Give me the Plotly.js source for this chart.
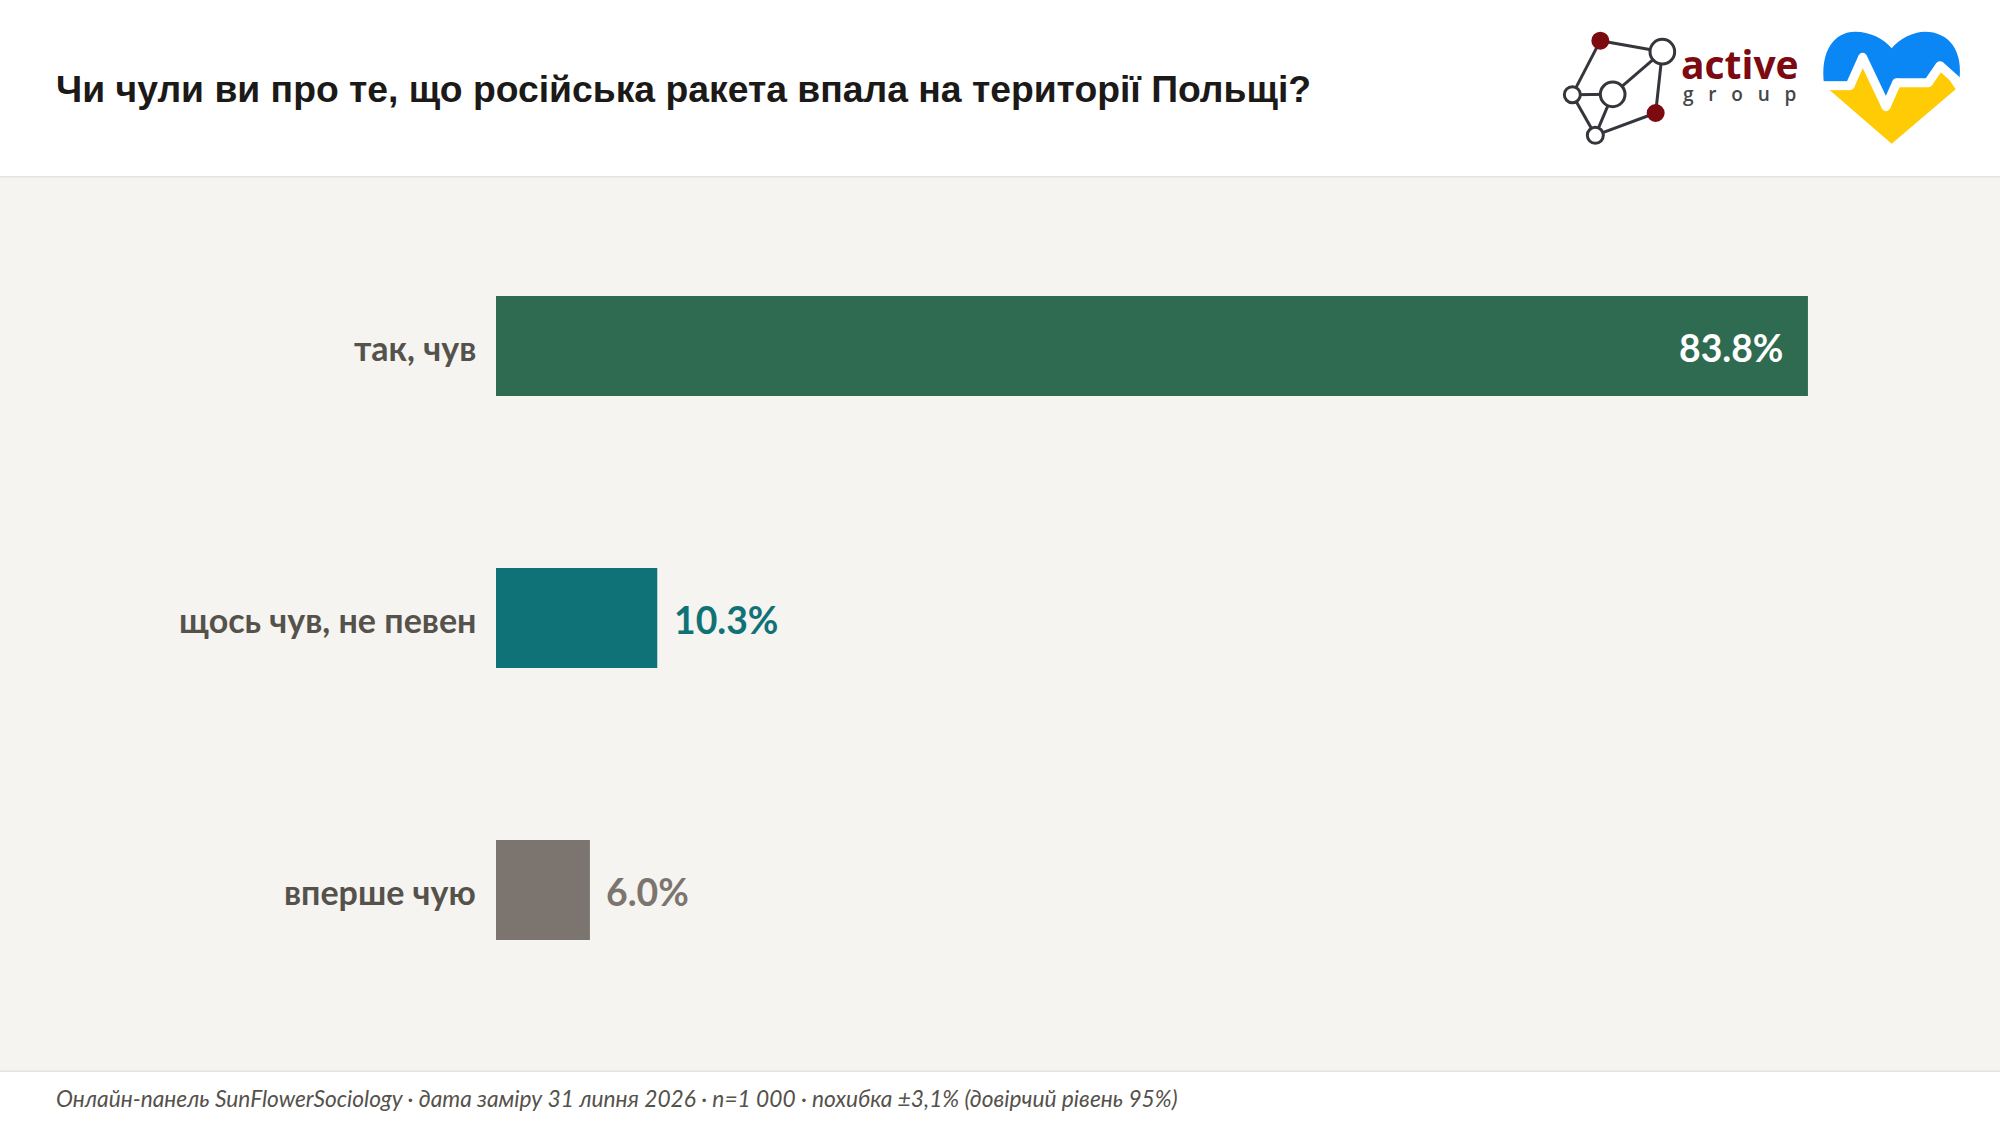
<!DOCTYPE html>
<html><head><meta charset="utf-8">
<script src="https://cdn.plot.ly/plotly-3.0.1.min.js"></script>
<style>html,body{margin:0;padding:0;background:#fff;overflow:hidden}</style></head>
<body><div id="chart" style="width:2000px;height:1126px"></div>
<script>
const categories = ["так, чув", "щось чув, не певен", "вперше чую"];
const values = [83.8, 10.3, 6.0];
const valueLabels = ["83.8%", "10.3%", "6.0%"];
const barColors = ["#2f6b50", "#0f7276", "#7c746e"];
const labelColors = ["#ffffff", "#0f7276", "#7c746e"];
const titleText = "Чи чули ви про те, що російська ракета впала на території Польщі?";
const footerText = "Онлайн-панель SunFlowerSociology · дата заміру 31 липня 2026 · n=1 000 · похибка ±3,1% (довірчий рівень 95%)";

const W = 2000, H = 1126;
const px = x => x / W, py = y => 1 - y / H;
const LX = x => (1540 + x / 3) / W, LY = y => 1 - (y / 3) / H;
function rect(x0, y0, x1, y1, c, layer) {
  return {type:"rect", xref:"paper", yref:"paper", x0:px(x0), x1:px(x1), y0:py(y0), y1:py(y1),
          fillcolor:c, line:{width:0}, layer:layer||"below"};
}
function pathOf(cmds) {
  return cmds.map(c => {
    let s = c[0];
    for (let i = 1; i < c.length; i += 2) s += (i > 1 ? " " : "") + LX(c[i]) + "," + LY(c[i+1]);
    return s;
  }).join(" ");
}
function pathShape(cmds, fill, lineColor, lineW) {
  return {type:"path", xref:"paper", yref:"paper", path:pathOf(cmds), fillcolor:fill||"rgba(0,0,0,0)",
          line:{color:lineColor||"rgba(0,0,0,0)", width:lineW||0}, layer:"above"};
}
function circ(x, y, r, fill, lineColor, lineW) {
  return {type:"circle", xref:"paper", yref:"paper", x0:LX(x-r), x1:LX(x+r), y0:LY(y+r), y1:LY(y-r),
          fillcolor:fill, line:{color:lineColor||fill, width:lineW||0}, layer:"above"};
}
const nodes = {A:[181,122],B:[367,155],C:[218,283],D:[97,284],E:[347,339],F:[166,406]};
const links = ["AB","AD","BC","BE","CD","CF","DF","EF"];
const ink = "#34363c";
const logoShapes = links.map(l => pathShape([["M",...nodes[l[0]]],["L",...nodes[l[1]]]], null, ink, 3));
logoShapes.push(
  circ(...nodes.A, 27, "#7c0a10"), circ(...nodes.E, 27, "#7c0a10"),
  circ(...nodes.B, 37, "#ffffff", ink, 3), circ(...nodes.C, 37, "#ffffff", ink, 3),
  circ(...nodes.D, 24, "#ffffff", ink, 3), circ(...nodes.F, 24, "#ffffff", ink, 3)
);
const pulse = [[850,257],[930,257],[968,172],[1038,320],[1070,248],[1165,248],[1200,197],[1262,252]];
logoShapes.push(
  pathShape([["M",853,257],["C",838,150,885,95,945,95],["C",990,95,1030,115,1055,145],["C",1080,115,1120,95,1155,95],
    ["C",1225,95,1273,150,1257,250],["L",1200,197],["L",1165,248],["L",1070,248],["L",1038,320],["L",968,172],["L",930,257],["Z"]], "#0a86f5"),
  pathShape([["M",866,268],["L",930,257],["L",968,172],["L",1038,320],["L",1070,248],["L",1165,248],["L",1200,197],["L",1247,268],["L",1055,431],["Z"]], "#ffcb05")
);
pulse.slice(1).forEach((p,i) => logoShapes.push(pathShape([["M",...pulse[i]],["L",...p]], null, "#ffffff", 9)));
pulse.slice(1,-1).forEach(p => logoShapes.push(circ(p[0],p[1],13.5,"#ffffff")));

const valueAnn = values.map((v,i) => ({
  xref:"x", yref:"y", x:v, y:categories[i], text:valueLabels[i], showarrow:false,
  xanchor: i===0 ? "right" : "left", xshift: i===0 ? -23 : 14.5, yshift:-1.5, yanchor:"middle",
  font:{family:"Lato, sans-serif", size:37.33, color:labelColors[i], weight:700}
}));
const categoryAnn = categories.map(c => ({
  xref:"x", yref:"y", x:0, y:c, text:c, showarrow:false, xanchor:"right", xshift:-18, yshift:-1.3, yanchor:"middle",
  font:{family:"Lato, sans-serif", size:34, color:"#55514b", weight:700}
}));

const data = [{type:"bar", orientation:"h", y:categories, x:values, marker:{color:barColors, line:{width:0}}, hoverinfo:"skip"}];
const layout = {
  width:W, height:H, margin:{l:0,r:0,t:0,b:0,pad:0}, paper_bgcolor:"#ffffff", plot_bgcolor:"rgba(0,0,0,0)", showlegend:false,
  bargap:0.6324,
  title:{text:"<b>"+titleText+"</b>", x:px(56), xref:"paper", xanchor:"left", y:py(89), yref:"paper", yanchor:"middle",
         font:{family:"Liberation Sans, Arial, sans-serif", size:37.3, color:"#1c1a18"}},
  xaxis:{domain:[px(496),px(1905)], range:[0,90], visible:false, fixedrange:true},
  yaxis:{domain:[py(1026),py(210)], type:"category", categoryorder:"array", categoryarray:categories, range:[2.5,-0.5],
         showgrid:false, zeroline:false, showline:false, ticks:"", showticklabels:false, fixedrange:true},
  shapes:[rect(0,177,W,1071,"#f5f4f0"), rect(0,176,W,177.5,"#e5e3de"), rect(0,1070.5,W,1072,"#e5e3de"), ...logoShapes],
  annotations:[...categoryAnn, ...valueAnn,
    {xref:"paper", yref:"paper", x:px(53.5), y:py(1098), xanchor:"left", yanchor:"middle", showarrow:false, text:"<i>"+footerText+"</i>",
     font:{family:"Lato, sans-serif", size:22.72, color:"#55514b"}},
    {xref:"paper", yref:"paper", x:LX(416), y:LY(192), xanchor:"left", yanchor:"middle", showarrow:false, text:"<b>active</b>",
     font:{family:"Open Sans, sans-serif", size:39, color:"#7c0a10"}},
    {xref:"paper", yref:"paper", x:LX(422), y:LY(282), xanchor:"left", yanchor:"middle", showarrow:false, text:"g\u00a0\u00a0\u00a0r\u00a0\u00a0\u00a0o\u00a0\u00a0\u00a0u\u00a0\u00a0\u00a0p",
     font:{family:"Open Sans, sans-serif", size:19, color:"#444648", weight:600}}
  ]
};
Plotly.newPlot("chart", data, layout, {displayModeBar:false, staticPlot:true});
</script></body></html>
